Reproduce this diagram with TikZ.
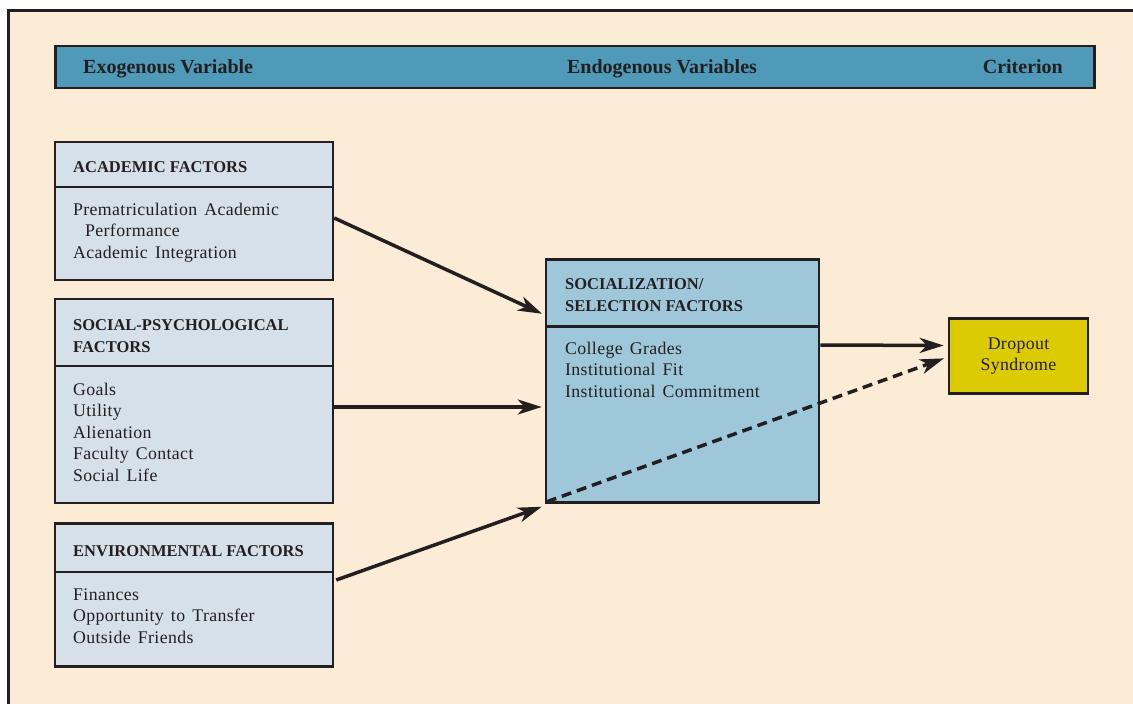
\documentclass[tikz,border=0pt]{standalone}
\usepackage{fontspec}
\setmainfont{Liberation Serif}
\newfontfamily\itemfont[LetterSpace=2,WordSpace=1.5]{Liberation Serif}
\usetikzlibrary{arrows.meta}
\definecolor{bgbeige}{RGB}{253,236,213}
\definecolor{headblue}{RGB}{78,154,184}
\definecolor{boxgrey}{RGB}{213,224,233}
\definecolor{selblue}{RGB}{158,200,218}
\definecolor{dropyellow}{RGB}{220,203,0}
\definecolor{ink}{RGB}{35,31,32}
\tikzset{
  fbox/.style={draw=ink, line width=2.5pt, fill=boxgrey, inner sep=0pt},
  divider/.style={draw=ink, line width=2.5pt},
  headtext/.style={text=ink, font=\bfseries\fontsize{20}{24}\selectfont, inner sep=0pt, anchor=base},
  titletext/.style={text=ink, inner sep=0pt, anchor=base west},
  itemtext/.style={text=ink, inner sep=0pt, anchor=base west},
  arr/.style={draw=ink, line width=3.5pt, -{Stealth[length=24pt,width=15pt,inset=7pt]}},
}
\newcommand{\titleblock}[1]{\parbox[t]{260pt}{\raggedright\bfseries\fontsize{16.5}{22}\selectfont #1}}
\newcommand{\itemblock}[1]{\parbox[t]{260pt}{\raggedright\itemfont\fontsize{17.8}{21.5}\selectfont #1}}
\begin{document}
\begin{tikzpicture}[x=1pt,y=-1pt]
\useasboundingbox (0,0) rectangle (1133,704);
\clip (0,0) rectangle (1133,704);
\fill[white] (0,0) rectangle (1133,704);
\fill[bgbeige] (8.5,10.5) rectangle (1145,715);
\draw[ink, line width=2.5pt] (1145,10.5) -- (8.5,10.5) -- (8.5,715);

% header bar
\node (head) [draw=ink, line width=2.8pt, fill=headblue, minimum width=1039pt, minimum height=42pt, inner sep=0pt] at (575,67) {};
\node (hexo) [headtext, anchor=base west] at (83,73.6) {Exogenous Variable};
\node (hendo) [headtext] at (662,73.6) {Endogenous Variables};
\node (hcrit) [headtext, anchor=base east] at (1063,73.6) {Criterion};

% academic factors
\node (acad) [fbox, minimum width=278pt, minimum height=138pt] at (194,211) {};
\draw[divider] (acad.west |- 0,187) -- (acad.east |- 0,187);
\node (acadt) [titletext] at (73,172.3) {\titleblock{ACADEMIC FACTORS}};
\node (acadi) [itemtext] at (73,215) {\itemblock{Prematriculation Academic\\\hspace*{12pt}Performance\\Academic Integration}};

% social-psychological factors
\node (soc) [fbox, minimum width=278pt, minimum height=204pt] at (194,401) {};
\draw[divider] (soc.west |- 0,366) -- (soc.east |- 0,366);
\node (soct) [titletext] at (73,330.3) {\titleblock{SOCIAL-PSYCHOLOGICAL\\FACTORS}};
\node (soci) [itemtext] at (73,395) {\itemblock{Goals\\Utility\\Alienation\\Faculty Contact\\Social Life}};

% environmental factors
\node (env) [fbox, minimum width=278pt, minimum height=143pt] at (194,595) {};
\draw[divider] (env.west |- 0,572) -- (env.east |- 0,572);
\node (envt) [titletext] at (73,556.3) {\titleblock{ENVIRONMENTAL FACTORS}};
\node (envi) [itemtext] at (73,600) {\itemblock{Finances\\Opportunity to Transfer\\Outside Friends}};

% socialization / selection factors
\node (sel) [fbox, fill=selblue, minimum width=273pt, minimum height=243pt] at (682.5,381) {};
\draw[divider] (sel.west |- 0,326.5) -- (sel.east |- 0,326.5);
\node (selt) [titletext] at (565,289.3) {\titleblock{SOCIALIZATION/\\SELECTION FACTORS}};
\node (seli) [itemtext] at (565,354) {\itemblock{College Grades\\Institutional Fit\\Institutional Commitment}};

% dropout syndrome
\node (drop) [fbox, fill=dropyellow, minimum width=139pt, minimum height=75pt, align=center, font=\itemfont\fontsize{17.8}{20.5}\selectfont, text=ink] at (1018.5,356) {Dropout\\Syndrome};

% connectors
\draw[arr, shorten >=3pt] ([yshift=-7pt]acad.east) -- ([yshift=66pt]sel.west);
\draw[arr, shorten >=3pt] ([xshift=-2pt,yshift=-6pt]soc.east) -- ([yshift=-26pt]sel.west);
\draw[arr] ([xshift=2pt,yshift=15pt]env.east) -- ([xshift=-3pt,yshift=-3pt]sel.south west);
\draw[arr, shorten >=4pt] ([yshift=36pt]sel.east) -- ([yshift=10.5pt]drop.west);
\draw[arr, shorten >=4pt, dash pattern=on 10pt off 6pt] ([xshift=2pt,yshift=2pt]sel.south west) -- ([yshift=-1pt]drop.west);
\end{tikzpicture}
\end{document}
